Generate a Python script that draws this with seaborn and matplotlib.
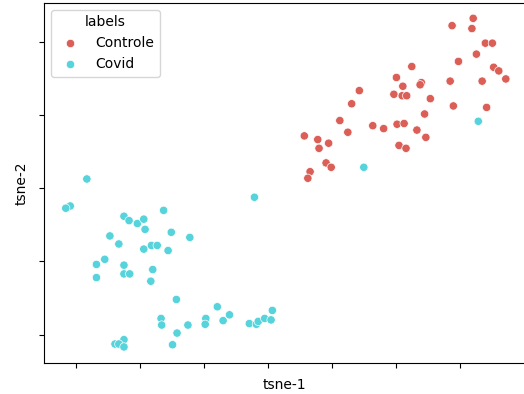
import matplotlib
matplotlib.use("Agg")
import matplotlib.pyplot as plt
import seaborn as sns
import pandas as pd

controle_x = [32.1, 28.8, 31.9, 34.0, 35.1, 32.6, 29.8, 22.5, 35.3, 36.1, 37.2, 20.1, 24.0, 23.8,
              28.5, 33.5, 21.1, 14.3, 19.7, 21.0, 21.7, 25.4, 13.1, 29.0, 34.2, 24.5, 11.25, 16.4,
              18.1, 20.2, 21.3, 12.5, 23.3, 5.7, 7.8, 9.5, 8.0, 24.7, 20.5, 21.6, 9.1, 9.9, 6.6, 6.25]
controle_y = [23.3, 22.3, 21.9, 19.9, 19.9, 18.4, 17.4, 16.7, 16.6, 16.1, 15.0, 15.2, 14.5, 14.2,
              14.7, 14.7, 14.0, 13.4, 12.9, 12.7, 12.7, 12.3, 11.6, 11.3, 11.1, 10.2, 9.3, 8.6,
              8.2, 8.8, 8.9, 7.7, 8.0, 7.2, 6.7, 6.2, 5.5, 7.0, 5.9, 5.5, 3.5, 2.9, 2.3, 1.4]

covid_x = [32.9, 15.0, -28.3, -30.9, -31.6, -22.5, -21.7, -20.4, -19.4, -19.2, -16.3, -15.1,
           -12.2, -24.7, -23.3, -19.4, -18.2, -17.3, -15.6, -25.5, -26.8, -22.5, -26.8, -22.5,
           -21.6, -18.0, -18.3, -2.1, -14.3, -7.9, -6.0, -7.0, -16.7, -16.6, -12.5, -14.2,
           -9.7, -9.8, -2.9, -1.8, -1.5, -0.5, 0.7, 0.5, -14.9, -22.5, -23.9, -23.3, -22.5]
covid_y = [9.2, 2.9, 1.3, -2.4, -2.7, -3.8, -4.4, -4.8, -4.2, -5.6, -3.0, -6.0,
           -6.7, -6.5, -7.6, -8.3, -7.8, -7.8, -8.5, -9.7, -10.4, -10.5, -12.2, -11.7,
           -11.7, -11.1, -12.7, -1.2, -15.2, -16.2, -17.3, -18.1, -17.8, -18.7, -18.7, -19.8,
           -17.8, -18.6, -18.5, -18.6, -18.2, -17.8, -16.7, -18.0, -21.4, -20.7, -21.3, -21.3, -21.7]

categories = ["Controle", "Covid"]

df = pd.DataFrame({
    "tsne-1": controle_x + covid_x,
    "tsne-2": controle_y + covid_y,
    "labels": [categories[0]] * len(controle_x) + [categories[1]] * len(covid_x),
})

fig = plt.figure(figsize=(5.24, 3.94), dpi=100)
ax = fig.add_axes([44 / 524, 1 - 363 / 394, 481 / 524, 360 / 394])
sns.scatterplot(data=df, x="tsne-1", y="tsne-2", hue="labels",
                palette=sns.color_palette("hls", 2), ax=ax)
ax.set_xlim(-35.0, 40.2)
ax.set_ylim(-23.9, 25.4)
ax.set_xticks([-30, -20, -10, 0, 10, 20, 30])
ax.set_yticks([-20, -10, 0, 10, 20])
ax.set_xticklabels([])
ax.set_yticklabels([])
ax.legend(title="labels", loc="upper left")
fig.savefig("out.png", dpi=100)
